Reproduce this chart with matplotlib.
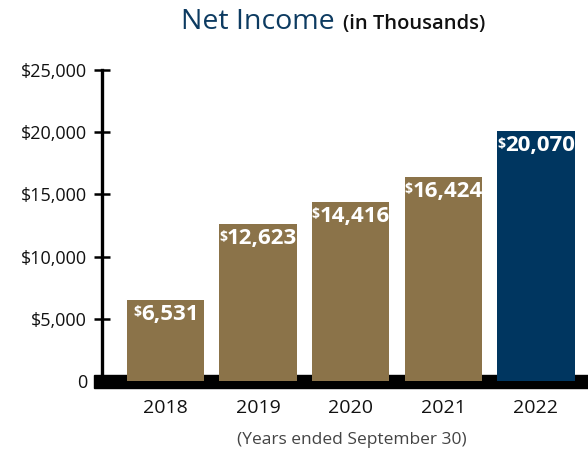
import matplotlib.pyplot as plt
from matplotlib.patches import Rectangle

years = ["2018", "2019", "2020", "2021", "2022"]
net_income = [6531, 12623, 14416, 16424, 20070]
bar_colors = ["#8b7349", "#8b7349", "#8b7349", "#8b7349", "#003660"]
yticks = [0, 5000, 10000, 15000, 20000, 25000]
ytick_labels = ["0", "$5,000", "$10,000", "$15,000", "$20,000", "$25,000"]

plt.rcParams['font.family'] = ['Open Sans', 'DejaVu Sans']

W, H = 588, 455
fig = plt.figure(figsize=(W / 100, H / 100), dpi=100)

# axes placed in pixel terms: y axis line at x=102, zero at y=381, 25k at y=70
ax = fig.add_axes([102 / W, (H - 381) / H, (W - 102) / W, (381 - 70) / H])
ax.set_xlim(-0.686, 4.563)
ax.set_ylim(0, 25000)

x = range(len(years))
ax.bar(x, net_income, width=0.835, color=bar_colors, zorder=3)

# thick black base band under the bars
ax.add_patch(Rectangle((-0.772, -560), 5.4, 1040, color="black",
                       clip_on=False, zorder=2))

for s in ["top", "right", "bottom"]:
    ax.spines[s].set_visible(False)
ax.spines["left"].set_linewidth(2.4)
ax.spines["left"].set_zorder(4)

ax.set_yticks(yticks)
ax.set_yticklabels(ytick_labels, fontsize=13, color="#111111")
ax.tick_params(axis="y", direction="inout", length=11.5, width=1.8, pad=5)

ax.set_xticks(list(x))
ax.set_xticklabels(years, fontsize=14, color="#111111")
ax.tick_params(axis="x", length=0, pad=13)

# value labels with a small raised dollar sign
for i, v in enumerate(net_income):
    t = ax.annotate(f"{v:,}", xy=(i, v), xytext=(3, -3), textcoords="offset points",
                    ha="center", va="top", color="white", fontsize=16,
                    fontweight="bold", zorder=5)
    ax.annotate("$", xy=(0, 0.93), xycoords=t, ha="right", va="top",
                color="white", fontsize=10, fontweight="bold", zorder=5)

fig.text(181 / W, (H - 29) / H, "Net Income", fontsize=20.5, color="#0d3b61",
         ha="left", va="baseline")
fig.text(343 / W, (H - 29) / H, "(in Thousands)", fontsize=14.5, color="#111111",
         fontweight="semibold", ha="left", va="baseline")
fig.text(352 / W, (H - 440) / H, "(Years ended September 30)", fontsize=12.5,
         color="#444444", ha="center", va="center")

fig.savefig("out.png", dpi=100)
